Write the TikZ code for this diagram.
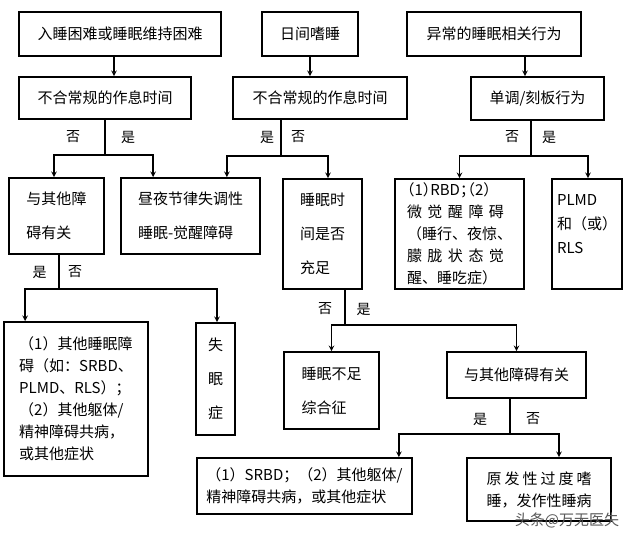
\documentclass[tikz,border=0pt]{standalone}
\usepackage{fontspec}
\setmainfont{Noto Sans CJK SC}
\usepackage{tikz}
\usetikzlibrary{arrows, positioning, calc}
\tikzstyle{box} = [rectangle, draw=black, line width=1.7pt, inner sep=0pt, align=left, font=\fontsize{15}{34}\selectfont]
\tikzstyle{tight} = [box, font=\fontsize{15}{22}\selectfont]
\tikzstyle{arrow} = [line width=1.5pt,->,>=stealth]
\tikzstyle{link} = [line width=1.5pt]
\tikzstyle{yn} = [inner sep=0pt, font=\fontsize{14}{14}\selectfont]

\begin{document}
\begin{tikzpicture}[x=1pt, y=-1pt]
            \useasboundingbox [fill=white] (0,0) rectangle (640,543);
            \node (insom) [box, minimum width=202pt, minimum height=44pt] at (120,34) {入睡困难或睡眠维持困难};
            \node (sleepy) [box, minimum width=96pt, minimum height=44pt] at (310,34) {日间嗜睡};
            \node (behav) [box, minimum width=174pt, minimum height=44pt] at (494,34) {异常的睡眠相关行为};
            \node (sched1) [box, minimum width=172pt, minimum height=42pt] at (105,98) {不合常规的作息时间};
            \node (sched2) [box, minimum width=174pt, minimum height=42pt] at (320,98) {不合常规的作息时间};
            \node (mono) [box, minimum width=133pt, minimum height=43pt] at (537.5,98.5) {单调/刻板行为};

            \node (other1) [box, minimum width=95pt, minimum height=76pt] at (56.5,216) {与其他障\\碍有关};
            \node (circ) [box, minimum width=139pt, minimum height=76pt] at (190.5,216) {昼夜节律失调性\\睡眠-觉醒障碍};
            \node (enough) [box, minimum width=79pt, minimum height=110pt] at (322.5,234) {睡眠时\\间是否\\充足};
            \node (rbd) [tight, minimum width=129pt, minimum height=110pt] at (459.5,234) {{\addfontfeatures{RawFeature=+halt}（1）RBD；（2）}\\\hbox to 97pt{微\hfil 觉\hfil 醒\hfil 障\hfil 碍}\\（睡行、夜惊、\\\hbox to 97pt{朦\hfil 胧\hfil 状\hfil 态\hfil 觉}\\醒、睡吃症）};
            \node (plmd) [tight, font=\fontsize{15}{24}\selectfont, minimum width=70pt, minimum height=110pt] at (587,234) {PLMD\\和（或）\\RLS\\[-4pt]\mbox{}};

            \node (comorb1) [tight, minimum width=144pt, minimum height=154pt] at (76,399) {（1）其他睡眠障\\碍（如：SRBD、\\PLMD、RLS）；\\（2）其他躯体/\\精神障碍共病，\\或其他症状};
            \node (insomnia) [box, minimum width=39pt, minimum height=112pt] at (215.5,379) {失\\眠\\症};
            \node (insuff) [box, minimum width=95pt, minimum height=77pt] at (331.5,390.5) {睡眠不足\\综合征};
            \node (other2) [box, minimum width=139pt, minimum height=46pt] at (516.5,375) {与其他障碍有关};
            \node (comorb2) [tight, minimum width=215pt, minimum height=56pt] at (304.5,486) {（1）SRBD；（2）其他躯体/\\精神障碍共病，或其他症状};
            \node (primary) [tight, minimum width=144pt, minimum height=63pt] at (539,489.5) {\hbox to 105pt{原\hfil 发\hfil 性\hfil 过\hfil 度\hfil 嗜}\\睡，发作性睡病};

            \draw [arrow] ([xshift=-6pt]insom.south) -- ([xshift=-6pt]insom.south |- sched1.north);
            \draw [arrow] (sleepy.south) -- (sleepy.south |- sched2.north);
            \draw [arrow] ([xshift=31pt]behav.south) -- ([xshift=31pt]behav.south |- mono.north);

            \draw [link] (sched1.south) -- ++(0,35) coordinate (b1);
            \draw [arrow] (b1) -| ([xshift=-2.5pt]other1.north);
            \draw [arrow] (b1) -| ([xshift=33pt]circ.north west);
            \draw [link] ([xshift=49pt]sched2.south west) -- ++(0,36) coordinate (b2);
            \draw [arrow] (b2) -| ([xshift=-34pt]circ.north east);
            \draw [arrow] (b2) -| ([xshift=5.5pt]enough.north);
            \draw [link] ([xshift=-6.5pt]mono.south) -- ++(0,35) coordinate (b3);
            \draw [arrow] (b3) -| (rbd.north);
            \draw [arrow] (b3) -| ([xshift=1pt]plmd.north);

            \draw [link] ([xshift=2.5pt]other1.south) -- ++(0,34) coordinate (b4);
            \draw [arrow] (b4) -| ([xshift=22pt]comorb1.north west);
            \draw [arrow] (b4) -| ([xshift=1.5pt]insomnia.north);
            \draw [link] ([xshift=22.5pt]enough.south) -- ++(0,35) coordinate (b5);
            \draw [arrow] (b5) -| (insuff.north);
            \draw [arrow] (b5) -| (other2.north);
            \draw [link] ([xshift=-6.5pt]other2.south) -- ++(0,35) coordinate (b6);
            \draw [arrow] (b6) -| ([xshift=-14pt]comorb2.north east);
            \draw [arrow] (b6) -| ([xshift=20pt]primary.north);

            \node (no1) [yn] at (73,137) {否};
            \node (yes1) [yn] at (128,137) {是};
            \node (yes2) [yn] at (267,137) {是};
            \node (no2) [yn] at (298,137) {否};
            \node (no3) [yn] at (512,137) {否};
            \node (yes3) [yn] at (549,137) {是};
            \node (yes4) [yn] at (39.5,272) {是};
            \node (no4) [yn] at (75,272) {否};
            \node (no5) [yn] at (325,309) {否};
            \node (yes5) [yn] at (363.5,309) {是};
            \node (yes6) [yn] at (480,419) {是};
            \node (no6) [yn] at (533,419) {否};

            \node (mark) [font=\fontsize{15}{15}\selectfont, text=black!65] at (567,520) {头条@万无医失};
        \end{tikzpicture}
\end{document}
